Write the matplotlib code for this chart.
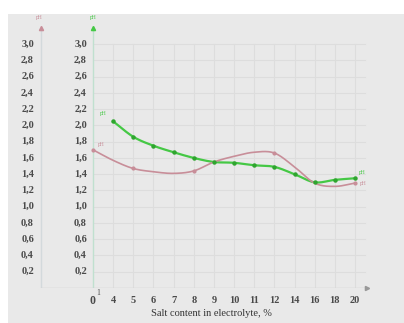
import numpy as np
import matplotlib
matplotlib.use("Agg")
import matplotlib.pyplot as plt
from matplotlib.patches import Rectangle

# ---- data ----
categories = ["0", "4", "5", "6", "7", "8", "9", "10", "11", "12", "14", "16", "18", "20"]
green_vals = [None, 2.05, 1.86, 1.75, 1.67, 1.60, 1.55, 1.54, 1.51, 1.49, 1.40, 1.30, 1.33, 1.35]
pink_vals = [1.70, 1.57, 1.47, 1.43, 1.41, 1.44, 1.55, 1.62, 1.67, 1.66, 1.49, 1.29, 1.25, 1.29]
pink_marker_idx = [0, 2, 5, 9, 13]
y_ticks = [0.2, 0.4, 0.6, 0.8, 1.0, 1.2, 1.4, 1.6, 1.8, 2.0, 2.2, 2.4, 2.6, 2.8, 3.0]
y_tick_labels = [f"{v:.1f}".replace(".", ",") for v in y_ticks]
x_label = "Salt content in electrolyte, %"

GREEN = "#45c845"
PINK = "#c88e99"
BG = "#e9e9e9"
TXT = "#4a4a4a"
GRID = "#dddddd"
SERIF = "Liberation Serif"

def catmull(xs, ys, n=20):
    xs = np.asarray(xs, float); ys = np.asarray(ys, float)
    px = np.concatenate([[2*xs[0]-xs[1]], xs, [2*xs[-1]-xs[-2]]])
    py = np.concatenate([[2*ys[0]-ys[1]], ys, [2*ys[-1]-ys[-2]]])
    ox, oy = [], []
    for i in range(1, len(px)-2):
        t = np.linspace(0, 1, n, endpoint=False)
        for arr, out in ((px, ox), (py, oy)):
            p0, p1, p2, p3 = arr[i-1], arr[i], arr[i+1], arr[i+2]
            out.extend(0.5*((2*p1) + (-p0+p2)*t + (2*p0-5*p1+4*p2-p3)*t**2 + (-p0+3*p1-3*p2+p3)*t**3))
    ox.append(xs[-1]); oy.append(ys[-1])
    return np.array(ox), np.array(oy)

fig = plt.figure(figsize=(4.04, 3.23), dpi=100)
fig.patch.set_facecolor("white")
bg = fig.add_axes([8/404, 0, 1, (323-14)/323], zorder=-10)
bg.set_facecolor(BG)
bg.axis("off")
bg.add_patch(Rectangle((0, 0), 1, 1, transform=bg.transAxes, facecolor=BG, edgecolor="none"))

ax = fig.add_axes([40/404, 35/323, 330/404, (288-11.6)/323], zorder=1)
ax.set_facecolor("none")
spacing = 20.15
ax.set_xlim((40-93)/spacing, (370-93)/spacing)
ax.set_ylim(0, 3.4)
ax.axis("off")

x = np.arange(len(categories))

# grid
for i in x[1:]:
    ax.plot([i, i], [0, 3.0], color=GRID, lw=0.8, zorder=1)
for v in y_ticks:
    ax.plot([0, 13.5], [v, v], color=GRID, lw=0.8, zorder=1)

# axes lines
pink_ax_x = (40-93)/spacing + 0.05
ax.plot([pink_ax_x, pink_ax_x], [0, 3.2], color="#d3d9dc", lw=1.0, zorder=2)
ax.plot([0, 0], [0, 3.2], color="#c0e0cf", lw=1.0, zorder=2)
ax.plot([pink_ax_x, 13.6], [0, 0], color="#cfcfcf", lw=1.0, zorder=2)
ax.plot([13.6], [0], marker=">", color="#999999", ms=3, zorder=3, clip_on=False)
ax.plot([pink_ax_x], [3.2], marker="^", color=PINK, ms=3, zorder=3, clip_on=False)
ax.plot([0], [3.2], marker="^", color=GREEN, ms=3, zorder=3, clip_on=False)
ax.text(pink_ax_x - 0.1, 3.3, "pH", color=PINK, fontsize=4, ha="center", va="bottom", family=SERIF)
ax.text(0, 3.3, "pH", color=GREEN, fontsize=4, ha="center", va="bottom", family=SERIF)

# y tick labels
for v, lab in zip(y_ticks, y_tick_labels):
    ax.text(pink_ax_x - 0.35, v, lab, ha="right", va="center", fontsize=7.5, color=TXT,
            family=SERIF, weight="bold")
    ax.text(-0.3, v, lab, ha="right", va="center", fontsize=7.5, color=TXT, family=SERIF, weight="bold")

# x tick labels
for i, c in zip(x, categories):
    if i == 0:
        ax.text(i, -0.16, c, ha="center", va="center", fontsize=8.5, color=TXT, family=SERIF, weight="bold")
        ax.text(i + 0.25, -0.06, "1", ha="center", va="center", fontsize=5.5, color=TXT, family=SERIF)
    else:
        ax.text(i, -0.15, c, ha="center", va="center", fontsize=7.5, color=TXT, family=SERIF, weight="bold")
ax.text(5.9, -0.31, x_label, ha="center", va="center", fontsize=7.5, color="#333333", family=SERIF)

# series
gx = x[1:]; gy = [v for v in green_vals[1:]]
sx, sy = catmull(gx, gy)
ax.plot(sx, sy, color=GREEN, lw=1.6, zorder=4)
ax.plot(gx, gy, "o", color="#2fa52f", ms=2.2, zorder=5)

px_, py_ = catmull(x, pink_vals)
ax.plot(px_, py_, color=PINK, lw=1.2, zorder=4)
ax.plot(x[pink_marker_idx], np.array(pink_vals)[pink_marker_idx], "o", color=PINK, ms=2, zorder=5)

ax.text(0.5, 2.12, "pH", color=GREEN, fontsize=4, ha="center", va="bottom", family=SERIF)
ax.text(0.4, 1.73, "pH", color=PINK, fontsize=4, ha="center", va="bottom", family=SERIF)
ax.text(13.2, 1.42, "pH", color=GREEN, fontsize=4, ha="left", va="center", family=SERIF)
ax.text(13.25, 1.28, "pH", color=PINK, fontsize=4, ha="left", va="center", family=SERIF)

fig.savefig("out.png", dpi=100, facecolor=fig.get_facecolor())
